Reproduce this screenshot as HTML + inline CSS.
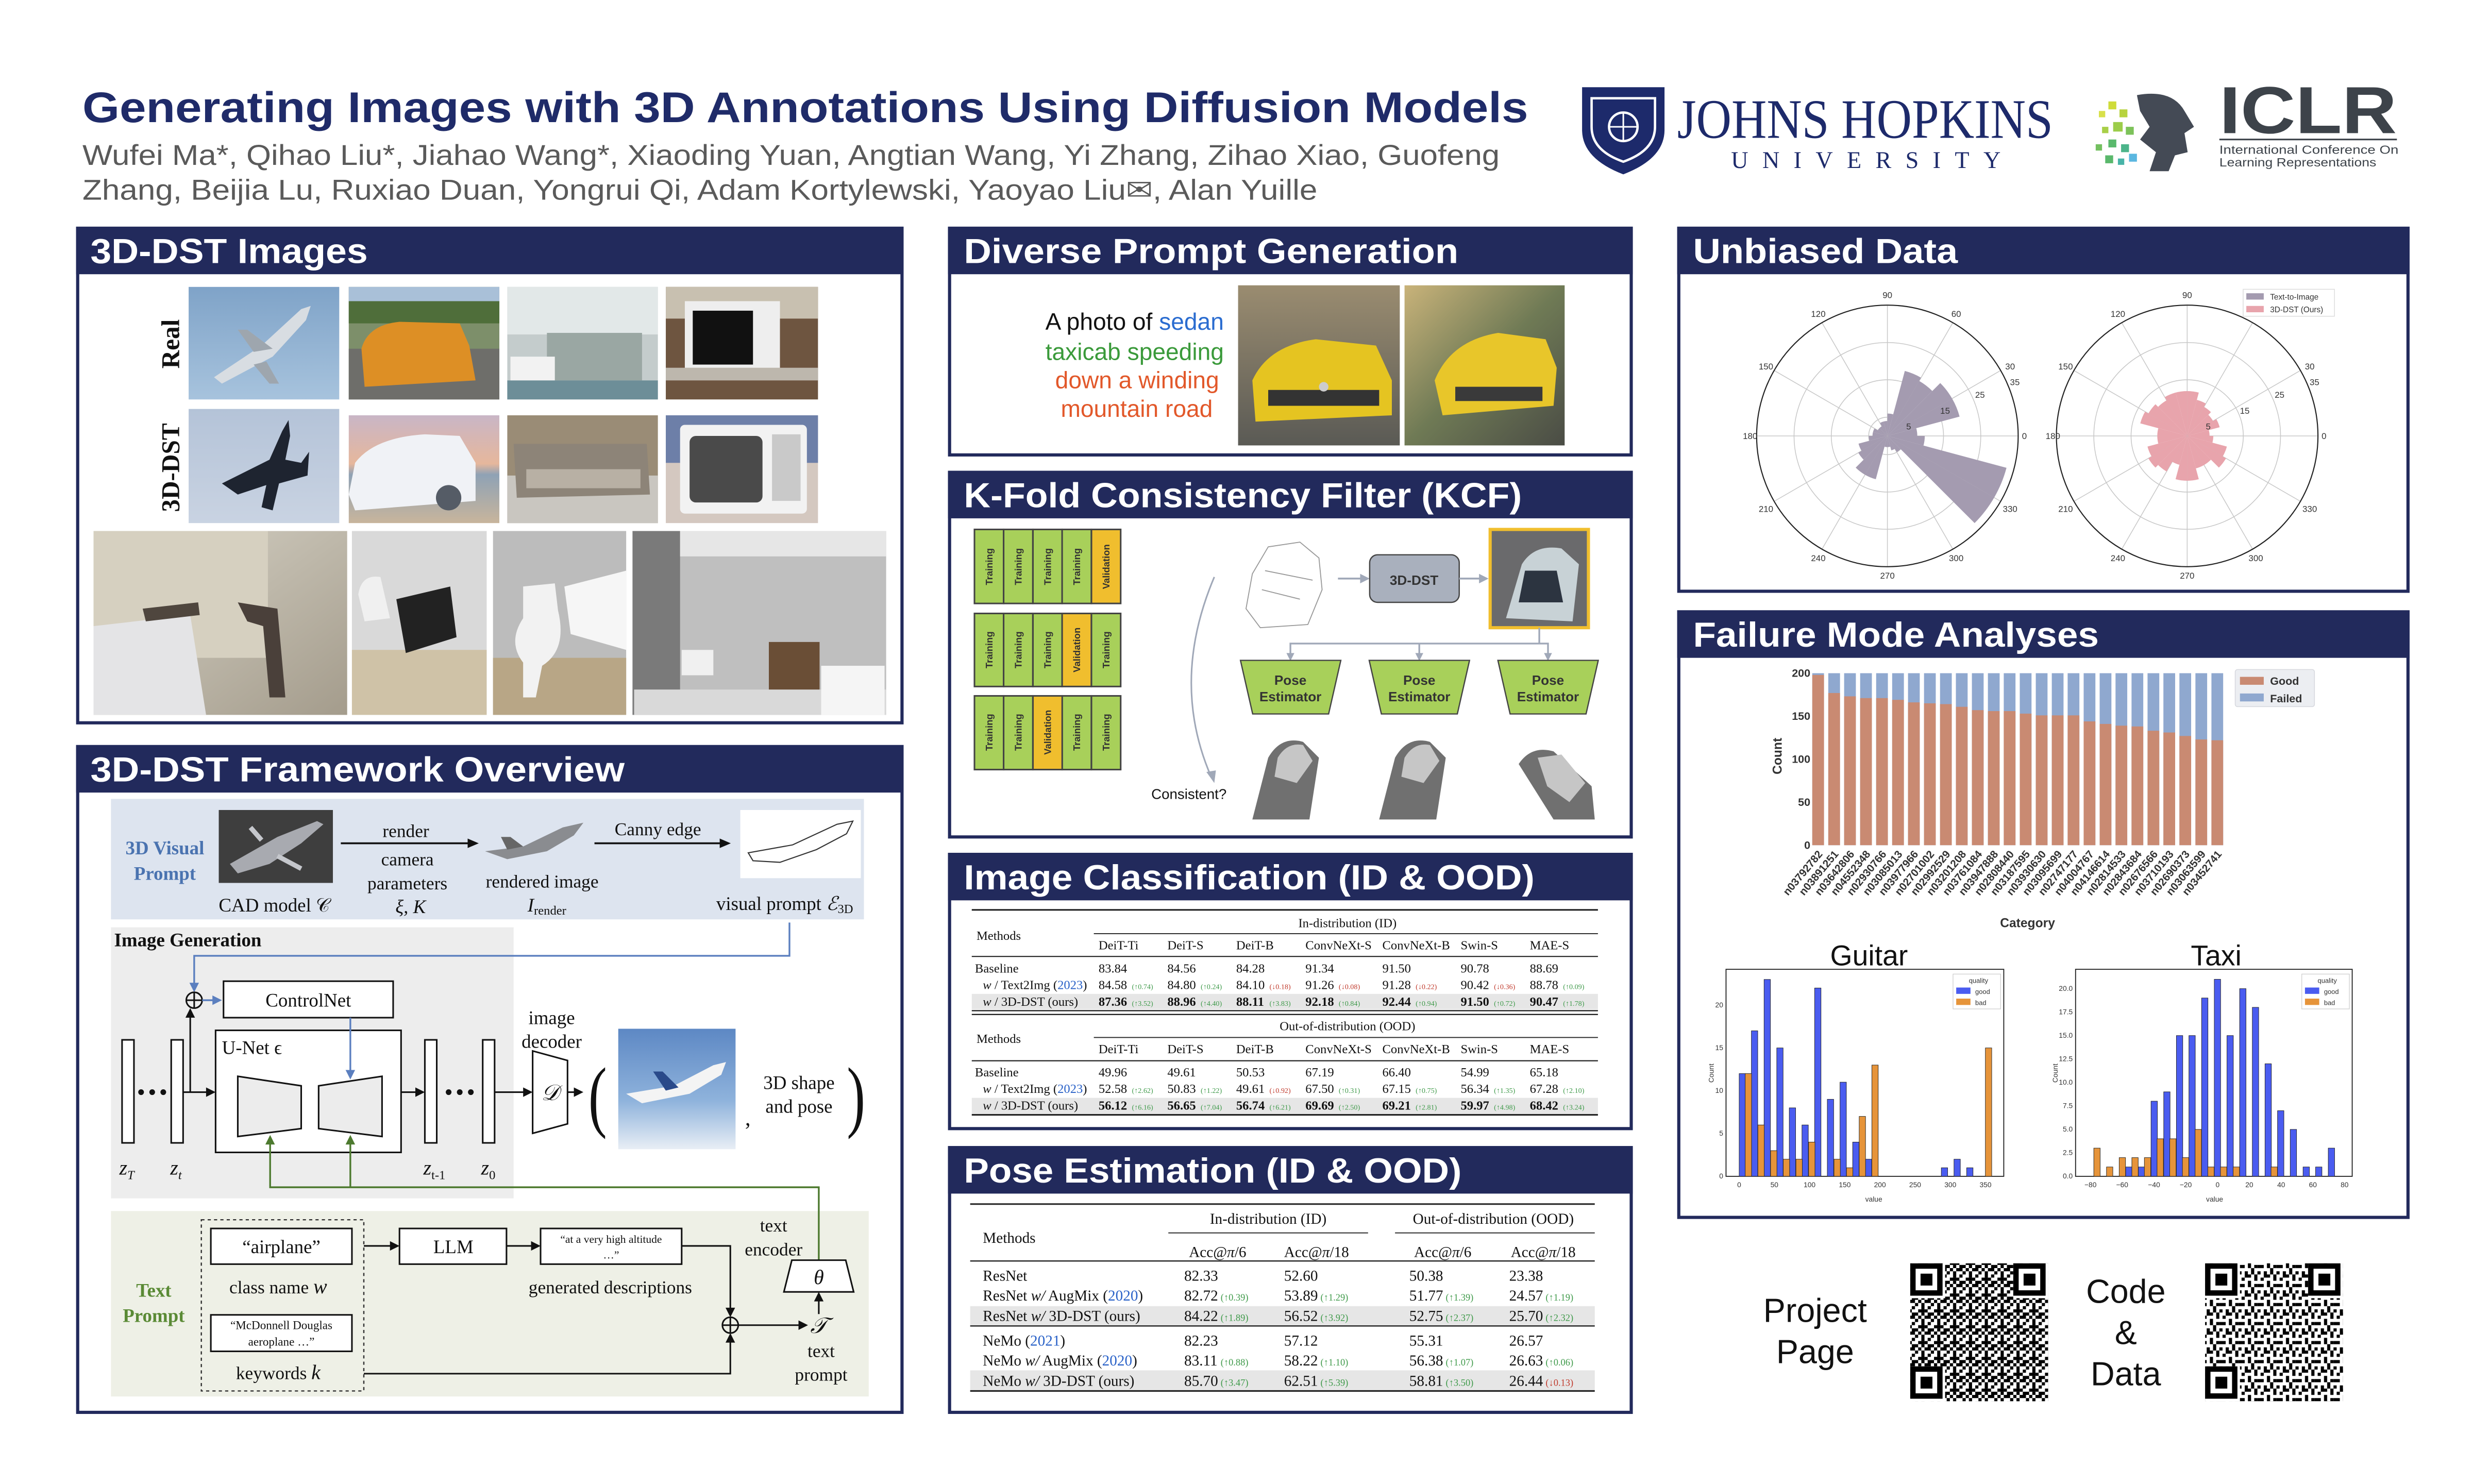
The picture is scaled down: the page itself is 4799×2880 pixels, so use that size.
<!DOCTYPE html>
<html><head><meta charset="utf-8"><style>
html,body{margin:0;padding:0;background:#fff;}
svg{display:block;}
.h{font-family:"Liberation Sans",sans-serif;font-weight:bold;fill:#fff;font-size:22px;}
.sf{font-family:"Liberation Serif",serif;}
.ss{font-family:"Liberation Sans",sans-serif;}
.t{font-family:"Liberation Serif",serif;font-size:8px;fill:#111;}
.d{font-family:"Liberation Serif",serif;font-size:4.6px;}
.g{fill:#3f9a4a;} .r{fill:#c0392b;} .bl{fill:#2a62c8;}
</style></head><body>
<svg width="4799" height="2880" viewBox="0 0 1560 936.2" preserveAspectRatio="none" xmlns="http://www.w3.org/2000/svg">
<defs>
<path id="w" d="M0,0 L1,0 A1,1 0 0,0 0.9659,-0.2588 Z"/>
<linearGradient id="sky" x1="0" y1="0" x2="0" y2="1"><stop offset="0" stop-color="#7fa3c8"/><stop offset="1" stop-color="#a7c3dd"/></linearGradient>
<linearGradient id="sky2" x1="0" y1="0" x2="0" y2="1"><stop offset="0" stop-color="#b4c3d8"/><stop offset="1" stop-color="#c9d3e2"/></linearGradient>
<linearGradient id="beach" x1="0" y1="0" x2="0" y2="1"><stop offset="0" stop-color="#c9b6c6"/><stop offset="0.45" stop-color="#e6b79c"/><stop offset="0.55" stop-color="#8fa2b5"/><stop offset="1" stop-color="#c8b59c"/></linearGradient>
<linearGradient id="room" x1="0" y1="0" x2="1" y2="1"><stop offset="0" stop-color="#d8d4c8"/><stop offset="1" stop-color="#a49c8c"/></linearGradient>
<linearGradient id="gray" x1="0" y1="0" x2="0" y2="1"><stop offset="0" stop-color="#d4d4d4"/><stop offset="1" stop-color="#9c9c9c"/></linearGradient>
<linearGradient id="road" x1="0" y1="0" x2="0" y2="1"><stop offset="0" stop-color="#9a8c70"/><stop offset="1" stop-color="#5a5a55"/></linearGradient>
<linearGradient id="road2" x1="0" y1="0" x2="1" y2="1"><stop offset="0" stop-color="#c9b37a"/><stop offset="0.5" stop-color="#6f7a55"/><stop offset="1" stop-color="#4a4c45"/></linearGradient>
<linearGradient id="pl" x1="0" y1="0" x2="0" y2="1"><stop offset="0" stop-color="#5d88c4"/><stop offset="0.6" stop-color="#8fb3dc"/><stop offset="1" stop-color="#e8eef5"/></linearGradient>
<pattern id="qr" width="10" height="10" patternUnits="userSpaceOnUse">
<rect width="10" height="10" fill="#fff"/>
<rect x="0" y="0" width="2" height="2"/><rect x="4" y="0" width="4" height="2"/><rect x="2" y="2" width="2" height="4"/><rect x="6" y="4" width="2" height="2"/><rect x="8" y="2" width="2" height="2"/><rect x="0" y="6" width="4" height="2"/><rect x="6" y="8" width="4" height="2"/><rect x="4" y="6" width="2" height="2"/><rect x="2" y="8" width="2" height="2"/>
</pattern>
<pattern id="qr2" width="12" height="12" patternUnits="userSpaceOnUse">
<rect width="12" height="12" fill="#fff"/>
<rect x="0" y="0" width="4" height="2"/><rect x="6" y="0" width="2" height="4"/><rect x="10" y="2" width="2" height="2"/><rect x="2" y="4" width="2" height="4"/><rect x="8" y="6" width="4" height="2"/><rect x="0" y="10" width="2" height="2"/><rect x="4" y="8" width="2" height="4"/><rect x="8" y="10" width="2" height="2"/><rect x="6" y="6" width="2" height="2"/>
</pattern>
</defs>
<rect width="1560" height="936.2" fill="#fff"/>

<!-- Title -->
<text x="52" y="77" class="ss" font-weight="bold" font-size="27" fill="#1f2b69" textLength="912" lengthAdjust="spacingAndGlyphs">Generating Images with 3D Annotations Using Diffusion Models</text>
<text x="52" y="104" class="ss" font-size="18" fill="#5a5a5a" textLength="894" lengthAdjust="spacingAndGlyphs">Wufei Ma*, Qihao Liu*, Jiahao Wang*, Xiaoding Yuan, Angtian Wang, Yi Zhang, Zihao Xiao, Guofeng</text>
<text x="52" y="126" class="ss" font-size="18" fill="#5a5a5a" textLength="779" lengthAdjust="spacingAndGlyphs">Zhang, Beijia Lu, Ruxiao Duan, Yongrui Qi, Adam Kortylewski, Yaoyao Liu✉, Alan Yuille</text>

<!-- JHU logo -->
<path d="M998,55 L1050,55 L1050,82 Q1050,100 1024,110 Q998,100 998,82 Z" fill="#1d2a6b"/>
<path d="M1004,62 L1044,62 L1044,80 Q1044,95 1024,102 Q1004,95 1004,80 Z" fill="none" stroke="#fff" stroke-width="1.5"/>
<circle cx="1024" cy="80" r="9" fill="none" stroke="#fff" stroke-width="1.5"/>
<line x1="1015" y1="80" x2="1033" y2="80" stroke="#fff" stroke-width="1"/>
<line x1="1024" y1="71" x2="1024" y2="89" stroke="#fff" stroke-width="1"/>
<text x="1058" y="87" class="sf" font-size="35" fill="#1d2a6b" textLength="237" lengthAdjust="spacingAndGlyphs">JOHNS HOPKINS</text>
<text x="1092" y="106" class="sf" font-size="15" fill="#1d2a6b" textLength="170" lengthAdjust="spacing">UNIVERSITY</text>
<!-- ICLR logo -->
<g>
<rect x="1324" y="70" width="4" height="4" fill="#d8e04a"/><rect x="1330" y="64" width="5" height="5" fill="#cfdc3a"/><rect x="1337" y="69" width="5" height="5" fill="#b7d33e"/>
<rect x="1326" y="80" width="4" height="4" fill="#a8cf48"/><rect x="1333" y="77" width="6" height="6" fill="#9ccd4a"/><rect x="1341" y="80" width="5" height="5" fill="#7dc25a"/>
<rect x="1322" y="91" width="4" height="4" fill="#74c060"/><rect x="1330" y="88" width="5" height="5" fill="#5ab96c"/><rect x="1338" y="91" width="5" height="5" fill="#4cb48a"/>
<rect x="1328" y="98" width="5" height="5" fill="#5ab86c"/><rect x="1336" y="100" width="4" height="4" fill="#48b4a8"/><rect x="1343" y="97" width="5" height="5" fill="#5bb7e0"/>
<path d="M1348,60 Q1370,56 1378,70 L1384,80 L1378,84 L1380,96 L1372,98 L1368,108 L1356,108 L1360,96 L1350,88 L1356,80 L1350,70 Z" fill="#444a55"/>
</g>
<text x="1400" y="84" class="ss" font-weight="bold" font-size="42" fill="#3d434a" textLength="112" lengthAdjust="spacingAndGlyphs">ICLR</text>
<line x1="1400" y1="88" x2="1512" y2="88" stroke="#3d434a" stroke-width="1"/>
<text x="1400" y="97" class="ss" font-size="7.5" fill="#3d434a" textLength="113" lengthAdjust="spacingAndGlyphs">International Conference On</text>
<text x="1400" y="105" class="ss" font-size="7.5" fill="#3d434a" textLength="99" lengthAdjust="spacingAndGlyphs">Learning Representations</text>

<!-- Panels -->
<g fill="#fff" stroke="#222a5c" stroke-width="2">
<rect x="49" y="144" width="520" height="312"/>
<rect x="49" y="471" width="520" height="420"/>
<rect x="599" y="144" width="430" height="143"/>
<rect x="599" y="298" width="430" height="230"/>
<rect x="599" y="539" width="430" height="173"/>
<rect x="599" y="724" width="430" height="167"/>
<rect x="1059" y="144" width="460" height="229"/>
<rect x="1059" y="386" width="460" height="382"/>
</g>
<g fill="#222a5c">
<rect x="48" y="143" width="522" height="30"/>
<rect x="48" y="470" width="522" height="30"/>
<rect x="598" y="143" width="432" height="30"/>
<rect x="598" y="297" width="432" height="30"/>
<rect x="598" y="538" width="432" height="30"/>
<rect x="598" y="723" width="432" height="30"/>
<rect x="1058" y="143" width="462" height="30"/>
<rect x="1058" y="385" width="462" height="30"/>
</g>
<text x="57" y="166" class="h" textLength="175" lengthAdjust="spacingAndGlyphs">3D-DST Images</text>
<text x="57" y="493" class="h" textLength="337" lengthAdjust="spacingAndGlyphs">3D-DST Framework Overview</text>
<text x="608" y="166" class="h" textLength="312" lengthAdjust="spacingAndGlyphs">Diverse Prompt Generation</text>
<text x="608" y="320" class="h" textLength="352" lengthAdjust="spacingAndGlyphs">K-Fold Consistency Filter (KCF)</text>
<text x="608" y="561" class="h" textLength="360" lengthAdjust="spacingAndGlyphs">Image Classification (ID &amp; OOD)</text>
<text x="608" y="746" class="h" textLength="314" lengthAdjust="spacingAndGlyphs">Pose Estimation (ID &amp; OOD)</text>
<text x="1068" y="166" class="h" textLength="167" lengthAdjust="spacingAndGlyphs">Unbiased Data</text>
<text x="1068" y="408" class="h" textLength="256" lengthAdjust="spacingAndGlyphs">Failure Mode Analyses</text>

<!-- 3D-DST Images -->
<text transform="translate(113,217) rotate(-90)" class="sf" font-weight="bold" font-size="16" text-anchor="middle" fill="#111">Real</text>
<text transform="translate(113,295) rotate(-90)" class="sf" font-weight="bold" font-size="16" text-anchor="middle" fill="#111">3D-DST</text>
<rect x="119" y="181" width="95" height="71" fill="url(#sky)"/>
<path d="M135,238 L165,218 L190,195 L196,193 L193,202 L172,225 L140,242 Z" fill="#d8dde2"/><path d="M160,222 L150,208 L156,208 L172,220 Z M168,228 L176,242 L170,242 L160,230Z" fill="#9ea6ae"/>
<rect x="220" y="181" width="95" height="71" fill="#7d8f6a"/>
<rect x="220" y="181" width="95" height="22" fill="#a9c0d8"/><rect x="220" y="190" width="95" height="14" fill="#4f6e3a"/>
<rect x="220" y="220" width="95" height="32" fill="#6e6e6a"/>
<path d="M228,220 Q232,205 252,203 L290,204 L296,218 L300,240 L230,244 Z" fill="#dd8f25"/>
<rect x="320" y="181" width="95" height="71" fill="#c4cccc"/><rect x="320" y="181" width="95" height="30" fill="#e2e8e8"/>
<rect x="345" y="210" width="60" height="30" fill="#9aa7a3"/><rect x="322" y="225" width="28" height="16" fill="#f2f2f2"/><rect x="320" y="240" width="95" height="12" fill="#6d8e98"/>
<rect x="420" y="181" width="96" height="71" fill="#6e5540"/><rect x="420" y="181" width="96" height="20" fill="#c8c0b0"/>
<rect x="432" y="190" width="60" height="45" fill="#eeeeee"/><rect x="437" y="196" width="38" height="34" fill="#111"/><rect x="420" y="232" width="96" height="8" fill="#bdb7ad"/>
<rect x="119" y="258" width="95" height="72" fill="url(#sky2)"/>
<path d="M140,305 L170,290 L178,272 L182,265 L183,275 L180,290 L190,292 L195,285 L194,300 L176,305 L172,322 L165,320 L168,306 L150,312 Z" fill="#1e2430"/>
<rect x="220" y="262" width="95" height="68" fill="url(#beach)"/>
<path d="M220,312 L224,292 Q236,276 268,274 L290,275 L300,292 L300,316 L224,322 Z" fill="#f0f2f6"/><circle cx="283" cy="314" r="8" fill="#555c66"/>
<rect x="320" y="262" width="95" height="68" fill="#9a8c76"/><rect x="320" y="300" width="95" height="30" fill="#c9c6c0"/>
<path d="M324,280 L408,280 L410,312 L326,314 Z" fill="#8d8478"/><rect x="332" y="296" width="72" height="12" fill="#b8b0a4"/>
<rect x="420" y="262" width="96" height="68" fill="#d4c8c0"/><rect x="420" y="262" width="96" height="30" fill="#6d7fa8"/>
<rect x="429" y="268" width="80" height="56" rx="3" fill="#f2f2f2"/><rect x="435" y="275" width="46" height="42" rx="4" fill="#4a4a4a"/><rect x="487" y="274" width="18" height="42" fill="#c9c9c9"/>
<rect x="59" y="335" width="160" height="116" fill="url(#room)"/><rect x="59" y="335" width="110" height="80" fill="#d6d0c0"/>
<path d="M59,395 L120,388 L130,451 L59,451 Z" fill="#e4e4e6"/><path d="M150,380 L175,384 L180,440 L170,440 L166,395 L156,392 Z" fill="#4a403a"/><path d="M90,384 L125,380 L126,388 L92,392Z" fill="#4f463e"/>
<rect x="222" y="335" width="85" height="116" fill="#d9d9d9"/><rect x="222" y="410" width="85" height="41" fill="#cfc2a7"/>
<path d="M250,378 L284,370 L288,402 L256,412 Z" fill="#222"/><path d="M226,375 Q228,362 240,364 L246,390 L230,392 Z" fill="#f0f0f0"/>
<rect x="311" y="335" width="84" height="116" fill="#bcbcbc"/><rect x="311" y="415" width="84" height="36" fill="#b8a686"/>
<path d="M330,370 L350,368 L352,385 Q358,410 342,420 L338,440 L330,440 L330,418 Q320,405 330,390 Z" fill="#f2f2f2"/><path d="M356,370 L395,360 L395,410 L360,400Z" fill="#f6f6f6"/>
<rect x="399" y="335" width="160" height="116" fill="#bfbfbf"/><rect x="399" y="335" width="30" height="116" fill="#7a7a7a"/><rect x="429" y="335" width="130" height="16" fill="#e6e6e6"/>
<rect x="400" y="435" width="159" height="16" fill="#d9d9d9"/><rect x="430" y="410" width="20" height="16" fill="#f0f0f0"/><rect x="485" y="405" width="32" height="30" fill="#6a4e36"/><rect x="518" y="420" width="40" height="31" fill="#f5f5f5"/>

<!-- Framework -->
<rect x="70" y="504" width="475" height="76" fill="#dde4ef"/>
<rect x="70" y="585" width="254" height="171" fill="#ededed"/>
<rect x="70" y="764" width="478" height="117" fill="#eef0e6"/>
<text x="104" y="539" class="sf" font-weight="bold" font-size="12" fill="#4a73b0" text-anchor="middle">3D Visual</text>
<text x="104" y="555" class="sf" font-weight="bold" font-size="12" fill="#4a73b0" text-anchor="middle">Prompt</text>
<rect x="138" y="511" width="72" height="46" fill="#3e3e3e"/>
<path d="M145,545 L175,528 L200,518 L204,520 L190,532 L170,545 L150,551 Z" fill="#a8aab0"/><path d="M165,530 L158,522 M175,540 L190,548" stroke="#c5c7cc" stroke-width="3"/>
<text x="173" y="575" class="sf" font-size="12" text-anchor="middle" fill="#111">CAD model 𝒞</text>
<text x="256" y="528" class="sf" font-size="11.5" text-anchor="middle" fill="#111">render</text>
<text x="257" y="546" class="sf" font-size="11.5" text-anchor="middle" fill="#111">camera</text>
<text x="257" y="561" class="sf" font-size="11.5" text-anchor="middle" fill="#111">parameters</text>
<text x="259" y="576" class="sf" font-size="12" font-style="italic" text-anchor="middle" fill="#111">ξ, K</text>
<line x1="215" y1="532" x2="298" y2="532" stroke="#111" stroke-width="1.2"/><path d="M302,532 L295,529 L295,535Z" fill="#111"/>
<path d="M306,537 L330,534 L355,522 L368,519 L362,527 L345,537 L320,542 Z" fill="#8a8c90"/><path d="M320,536 L316,528 L322,528 L330,534Z" fill="#666"/>
<text x="342" y="560" class="sf" font-size="11.5" text-anchor="middle" fill="#111">rendered image</text>
<text x="345" y="575" class="sf" font-size="12" font-style="italic" text-anchor="middle" fill="#111">I<tspan font-size="8" font-style="normal" dy="2">render</tspan></text>
<text x="415" y="527" class="sf" font-size="11.5" text-anchor="middle" fill="#111">Canny edge</text>
<line x1="375" y1="532" x2="457" y2="532" stroke="#111" stroke-width="1.2"/><path d="M461,532 L454,529 L454,535Z" fill="#111"/>
<rect x="467" y="511" width="76" height="43" fill="#fff"/>
<path d="M472,538 L500,533 L528,520 L538,518 L534,526 L515,536 L492,544 L475,543 Z" fill="none" stroke="#333" stroke-width="0.7"/>
<text x="495" y="574" class="sf" font-size="12" text-anchor="middle" fill="#111">visual prompt <tspan font-style="italic">ℰ</tspan><tspan font-size="8" dy="2">3D</tspan></text>
<text x="72" y="597" class="sf" font-weight="bold" font-size="12" fill="#111">Image Generation</text>
<path d="M498,582 L498,603 L122.5,603 L122.5,622" fill="none" stroke="#5b7fbf" stroke-width="1.1"/><path d="M122.5,626 L119.5,620 L125.5,620Z" fill="#5b7fbf"/>
<circle cx="122.5" cy="631" r="5" fill="none" stroke="#111" stroke-width="1"/><line x1="117.5" y1="631" x2="127.5" y2="631" stroke="#111"/><line x1="122.5" y1="626" x2="122.5" y2="636" stroke="#111"/>
<line x1="127.5" y1="631" x2="136" y2="631" stroke="#5b7fbf" stroke-width="1.1"/><path d="M140,631 L134,628 L134,634Z" fill="#5b7fbf"/>
<rect x="141" y="619" width="107" height="23" fill="#fff" stroke="#111" stroke-width="1"/>
<text x="194.5" y="635" class="sf" font-size="12" text-anchor="middle" fill="#111">ControlNet</text>
<rect x="136" y="650" width="117" height="77" fill="#fff" stroke="#111" stroke-width="1"/>
<text x="140" y="665" class="sf" font-size="12" fill="#111">U-Net ϵ</text>
<path d="M150,679 L190,685 L190,712 L150,717 Z" fill="#ececec" stroke="#111" stroke-width="1"/>
<path d="M201,685 L241,679 L241,717 L201,712 Z" fill="#ececec" stroke="#111" stroke-width="1"/>
<line x1="221" y1="642" x2="221" y2="676" stroke="#5b7fbf" stroke-width="1.1"/><path d="M221,681 L218,675 L224,675Z" fill="#5b7fbf"/>
<g fill="#fff" stroke="#111" stroke-width="1"><rect x="77" y="656" width="7.5" height="65"/><rect x="108" y="656" width="7.5" height="65"/><rect x="268" y="656" width="7.5" height="65"/><rect x="304.5" y="656" width="7.5" height="65"/></g>
<g fill="#111"><circle cx="89" cy="689" r="1.8"/><circle cx="96" cy="689" r="1.8"/><circle cx="103" cy="689" r="1.8"/><circle cx="283" cy="689" r="1.8"/><circle cx="290" cy="689" r="1.8"/><circle cx="297" cy="689" r="1.8"/></g>
<line x1="115.5" y1="689" x2="132" y2="689" stroke="#111"/><path d="M136,689 L130,686 L130,692Z" fill="#111"/>
<line x1="120" y1="689" x2="120" y2="640"/><line x1="120" y1="689" x2="120" y2="640" stroke="#111"/><path d="M120,636 L117,642 L123,642Z" fill="#111"/>
<line x1="253" y1="689" x2="264" y2="689" stroke="#111"/><path d="M268,689 L262,686 L262,692Z" fill="#111"/>
<line x1="312" y1="689" x2="332" y2="689" stroke="#111"/><path d="M336,689 L330,686 L330,692Z" fill="#111"/>
<path d="M336,663 L358,669 L358,709 L336,715 Z" fill="#fff" stroke="#111" stroke-width="1"/>
<text x="347" y="694" class="sf" font-size="14" font-style="italic" text-anchor="middle" fill="#111">𝒟</text>
<line x1="358" y1="689" x2="364" y2="689" stroke="#111"/><path d="M368,689 L362,686 L362,692Z" fill="#111"/>
<text x="348" y="646" class="sf" font-size="12" text-anchor="middle" fill="#111">image</text>
<text x="348" y="661" class="sf" font-size="12" text-anchor="middle" fill="#111">decoder</text>
<text x="377" y="708" class="sf" font-size="50" text-anchor="middle" fill="#111" transform="translate(377,708) scale(0.7,1) translate(-377,-708)">(</text>
<text x="540" y="708" class="sf" font-size="50" text-anchor="middle" fill="#111" transform="translate(540,708) scale(0.7,1) translate(-540,-708)">)</text>
<rect x="390" y="649" width="74" height="76" fill="url(#pl)"/>
<path d="M395,690 L425,685 L450,672 L458,670 L455,678 L435,690 L405,696 Z" fill="#f4f4f4"/><path d="M420,688 L412,676 L418,676 L428,686Z" fill="#2a4a8a"/>
<text x="470" y="710" class="sf" font-size="14" fill="#111">,</text>
<text x="504" y="687" class="sf" font-size="12" text-anchor="middle" fill="#111">3D shape</text>
<text x="504" y="702" class="sf" font-size="12" text-anchor="middle" fill="#111">and pose</text>
<g class="sf" font-size="13" font-style="italic" fill="#111" text-anchor="middle">
<text x="80" y="741">z<tspan font-size="8" dy="3">T</tspan></text><text x="111" y="741">z<tspan font-size="8" dy="3">t</tspan></text>
<text x="274" y="741">z<tspan font-size="8" dy="3" font-style="normal">t-1</tspan></text><text x="308" y="741">z<tspan font-size="8" dy="3" font-style="normal">0</tspan></text></g>
<path d="M516.5,795 L516.5,749 L170.4,749 L170.4,721 M221,749 L221,721" fill="none" stroke="#4d7a2f" stroke-width="1.1"/>
<path d="M170.4,716 L167.4,722 L173.4,722Z M221,716 L218,722 L224,722Z" fill="#4d7a2f"/>
<text x="97" y="818" class="sf" font-weight="bold" font-size="12" fill="#5a8a35" text-anchor="middle">Text</text>
<text x="97" y="834" class="sf" font-weight="bold" font-size="12" fill="#5a8a35" text-anchor="middle">Prompt</text>
<rect x="127" y="769.5" width="102.5" height="108" fill="none" stroke="#333" stroke-width="0.8" stroke-dasharray="2,2"/>
<rect x="133" y="775" width="89" height="22.5" fill="#fff" stroke="#111" stroke-width="1"/>
<text x="177.5" y="790.5" class="sf" font-size="12" text-anchor="middle" fill="#111">“airplane”</text>
<text x="175.5" y="816" class="sf" font-size="11.5" text-anchor="middle" fill="#111">class name  <tspan font-style="italic" font-size="13">w</tspan></text>
<rect x="133" y="829.5" width="89" height="23" fill="#fff" stroke="#111" stroke-width="1"/>
<text x="177.5" y="838.5" class="sf" font-size="7.5" text-anchor="middle" fill="#111">“McDonnell Douglas</text>
<text x="177.5" y="849" class="sf" font-size="7.5" text-anchor="middle" fill="#111">aeroplane  …”</text>
<text x="175.5" y="870" class="sf" font-size="11.5" text-anchor="middle" fill="#111">keywords  <tspan font-style="italic" font-size="13">k</tspan></text>
<line x1="229.5" y1="786" x2="248" y2="786" stroke="#111"/><path d="M252,786 L246,783 L246,789Z" fill="#111"/>
<rect x="252" y="775" width="67.5" height="22.5" fill="#fff" stroke="#111" stroke-width="1"/>
<text x="286" y="790.5" class="sf" font-size="12" text-anchor="middle" fill="#111">LLM</text>
<line x1="319.5" y1="786" x2="337" y2="786" stroke="#111"/><path d="M341,786 L335,783 L335,789Z" fill="#111"/>
<rect x="341" y="775" width="89" height="22.5" fill="#fff" stroke="#111" stroke-width="1"/>
<text x="385.5" y="784" class="sf" font-size="7" text-anchor="middle" fill="#111">“at a very high altitude</text>
<text x="385.5" y="794" class="sf" font-size="7" text-anchor="middle" fill="#111">…”</text>
<text x="385" y="816" class="sf" font-size="11.5" text-anchor="middle" fill="#111">generated descriptions</text>
<path d="M430,786 L460.7,786 L460.7,827" fill="none" stroke="#111"/><path d="M460.7,831 L457.7,825 L463.7,825Z" fill="#111"/>
<path d="M229.5,866.6 L460.7,866.6 L460.7,845" fill="none" stroke="#111"/><path d="M460.7,841 L457.7,847 L463.7,847Z" fill="#111"/>
<circle cx="460.7" cy="836" r="5" fill="none" stroke="#111"/><line x1="455.7" y1="836" x2="465.7" y2="836" stroke="#111"/><line x1="460.7" y1="831" x2="460.7" y2="841" stroke="#111"/>
<line x1="465.7" y1="836" x2="505" y2="836" stroke="#111"/><path d="M509.7,836 L503.7,833 L503.7,839Z" fill="#111"/>
<text x="516.5" y="841" class="sf" font-size="14" font-style="italic" text-anchor="middle" fill="#111">𝒯</text>
<line x1="516.5" y1="829" x2="516.5" y2="819" stroke="#111"/><path d="M516.5,815 L513.5,821 L519.5,821Z" fill="#111"/>
<path d="M499.5,795 L533.5,795 L538.5,815 L494.5,815 Z" fill="#fff" stroke="#111" stroke-width="1"/>
<text x="516.5" y="810" class="sf" font-size="13" font-style="italic" text-anchor="middle" fill="#111">θ</text>
<text x="488" y="777" class="sf" font-size="11.5" text-anchor="middle" fill="#111">text</text>
<text x="488" y="792" class="sf" font-size="11.5" text-anchor="middle" fill="#111">encoder</text>
<text x="518" y="856" class="sf" font-size="11.5" text-anchor="middle" fill="#111">text</text>
<text x="518" y="871" class="sf" font-size="11.5" text-anchor="middle" fill="#111">prompt</text>

<!-- Diverse prompt -->
<g class="ss" font-size="15" text-anchor="end">
<text x="772" y="208" fill="#111">A photo of <tspan fill="#2a6cd0">sedan</tspan></text>
<text x="772" y="227" fill="#3a9a3a">taxicab speeding</text>
<text x="769" y="245" fill="#e2582a">down a winding</text>
<text x="765" y="263" fill="#e2582a">mountain road</text>
</g>
<rect x="781" y="180" width="102" height="101" fill="url(#road)"/>
<path d="M790,240 Q800,218 830,214 L868,218 L878,240 L878,262 L792,266 Z" fill="#e5c421"/><rect x="800" y="246" width="70" height="10" fill="#333"/><circle cx="835" cy="244" r="3" fill="#ccc"/>
<rect x="886" y="180" width="101" height="101" fill="url(#road2)"/>
<path d="M905,240 Q915,215 945,210 L975,214 L982,232 L980,256 L910,262 Z" fill="#e8c62a"/><rect x="918" y="244" width="55" height="9" fill="#3a3a3a"/>

<!-- KCF -->
<g stroke="#444" stroke-width="1">
<g fill="#a8d05a"><rect x="614.7" y="334" width="18.44" height="46.7"/><rect x="633.1" y="334" width="18.44" height="46.7"/><rect x="651.6" y="334" width="18.44" height="46.7"/><rect x="670" y="334" width="18.44" height="46.7"/></g>
<rect x="688.5" y="334" width="18.44" height="46.7" fill="#f0be2e"/>
<g fill="#a8d05a"><rect x="614.7" y="387" width="18.44" height="46.1"/><rect x="633.1" y="387" width="18.44" height="46.1"/><rect x="651.6" y="387" width="18.44" height="46.1"/><rect x="688.5" y="387" width="18.44" height="46.1"/></g>
<rect x="670" y="387" width="18.44" height="46.1" fill="#f0be2e"/>
<g fill="#a8d05a"><rect x="614.7" y="439" width="18.44" height="46.5"/><rect x="633.1" y="439" width="18.44" height="46.5"/><rect x="670" y="439" width="18.44" height="46.5"/><rect x="688.5" y="439" width="18.44" height="46.5"/></g>
<rect x="651.6" y="439" width="18.44" height="46.5" fill="#f0be2e"/>
</g>
<g class="ss" font-weight="bold" font-size="6" fill="#333" text-anchor="middle">
<text transform="translate(626,357.5) rotate(-90)">Training</text><text transform="translate(644.4,357.5) rotate(-90)">Training</text><text transform="translate(662.9,357.5) rotate(-90)">Training</text><text transform="translate(681.3,357.5) rotate(-90)">Training</text><text transform="translate(699.8,357.5) rotate(-90)">Validation</text>
<text transform="translate(626,410) rotate(-90)">Training</text><text transform="translate(644.4,410) rotate(-90)">Training</text><text transform="translate(662.9,410) rotate(-90)">Training</text><text transform="translate(681.3,410) rotate(-90)">Validation</text><text transform="translate(699.8,410) rotate(-90)">Training</text>
<text transform="translate(626,462) rotate(-90)">Training</text><text transform="translate(644.4,462) rotate(-90)">Training</text><text transform="translate(662.9,462) rotate(-90)">Validation</text><text transform="translate(681.3,462) rotate(-90)">Training</text><text transform="translate(699.8,462) rotate(-90)">Training</text>
</g>
<path d="M800,345 L820,342 L832,352 L834,372 L825,394 L795,396 L786,384 L790,362 Z M798,360 L828,366 M796,372 L820,378" fill="none" stroke="#999" stroke-width="0.6"/>
<line x1="844" y1="365" x2="860" y2="365" stroke="#a0a8b8" stroke-width="1.2"/><path d="M864,365 L858,362 L858,368Z" fill="#a0a8b8"/>
<rect x="864" y="350" width="56.5" height="30" rx="5" fill="#a9b0bd" stroke="#444" stroke-width="0.8"/>
<text x="892" y="369" class="ss" font-weight="bold" font-size="8.5" text-anchor="middle" fill="#333">3D-DST</text>
<line x1="920.5" y1="365" x2="935" y2="365" stroke="#a0a8b8" stroke-width="1.2"/><path d="M939,365 L933,362 L933,368Z" fill="#a0a8b8"/>
<rect x="940" y="334" width="62" height="62" fill="#6a6a6c" stroke="#f0be2e" stroke-width="2"/>
<path d="M950,390 L960,356 Q968,343 985,346 L996,356 L992,392 Z" fill="#c8d2d6"/><path d="M962,360 L982,360 L986,380 L958,380Z" fill="#2c3440"/>
<path d="M971,396 L971,406 M814,415 L814,406 L976.5,406 L976.5,415 M895.3,406 L895.3,415" fill="none" stroke="#a0a8b8" stroke-width="1.1"/>
<g fill="#a0a8b8"><path d="M814,417 L811.5,412 L816.5,412Z"/><path d="M895.3,417 L892.8,412 L897.8,412Z"/><path d="M976.5,417 L974,412 L979,412Z"/></g>
<g fill="#a8d05a" stroke="#444" stroke-width="0.8">
<path d="M782.5,416.6 L845.8,416.6 L838.1,450.4 L790.2,450.4 Z"/>
<path d="M863.7,416.6 L927,416.6 L919.3,450.4 L871.4,450.4 Z"/>
<path d="M944.9,416.6 L1008.2,416.6 L1000.5,450.4 L952.6,450.4 Z"/>
</g>
<g class="ss" font-weight="bold" font-size="8.5" text-anchor="middle" fill="#333">
<text x="814" y="432">Pose</text><text x="814" y="442.5">Estimator</text>
<text x="895.3" y="432">Pose</text><text x="895.3" y="442.5">Estimator</text>
<text x="976.5" y="432">Pose</text><text x="976.5" y="442.5">Estimator</text>
</g>
<g fill="#707070"><path d="M790,517 L800,478 Q808,464 822,468 L832,478 L826,517 Z"/><path d="M870,517 L880,478 Q888,464 902,468 L912,478 L906,517 Z"/><path d="M958,482 Q966,470 980,474 L1004,496 L1006,517 L980,517 Z"/></g>
<g fill="#c6c6c6"><path d="M806,478 Q812,468 822,470 L828,480 L818,494 L804,490Z"/><path d="M886,478 Q892,468 902,470 L908,480 L898,494 L884,490Z"/><path d="M970,478 L985,476 L1000,494 L990,506 L976,496Z"/></g>
<path d="M766,364 Q738,430 764,490" fill="none" stroke="#a0a8b8" stroke-width="1"/><path d="M766,494 L761,487 L767,486Z" fill="#a0a8b8"/>
<text x="750" y="504" class="ss" font-size="9" text-anchor="middle" fill="#111">Consistent?</text>

<!-- Image Classification table -->
<g stroke="#222">
<line x1="613" y1="574" x2="1008" y2="574" stroke-width="1"/>
<line x1="690" y1="589" x2="1008" y2="589" stroke-width="0.6"/>
<line x1="613" y1="603.4" x2="1008" y2="603.4" stroke-width="0.7"/>
<line x1="613" y1="654.5" x2="613" y2="654.5"/>
<line x1="690" y1="654.5" x2="1008" y2="654.5" stroke-width="0.6"/>
<line x1="613" y1="669.2" x2="1008" y2="669.2" stroke-width="0.7"/>
</g>
<rect x="613" y="627" width="395" height="9.7" fill="#e6e6e6"/>
<rect x="613" y="692.6" width="395" height="10.2" fill="#e6e6e6"/>
<line x1="613" y1="637.6" x2="1008" y2="637.6" stroke="#222" stroke-width="0.8"/>
<line x1="613" y1="640" x2="1008" y2="640" stroke="#222" stroke-width="0.8"/>
<line x1="613" y1="703.3" x2="1008" y2="703.3" stroke="#222" stroke-width="1"/>
<text x="850" y="585" class="t" text-anchor="middle">In-distribution (ID)</text>
<text x="850" y="650" class="t" text-anchor="middle">Out-of-distribution (OOD)</text>
<text x="616" y="593" class="t">Methods</text><text x="616" y="658" class="t">Methods</text>
<g class="t">
<text x="693" y="599">DeiT-Ti</text><text x="736.4" y="599">DeiT-S</text><text x="779.8" y="599">DeiT-B</text><text x="823.5" y="599">ConvNeXt-S</text><text x="872" y="599">ConvNeXt-B</text><text x="921.4" y="599">Swin-S</text><text x="965" y="599">MAE-S</text>
<text x="693" y="664.5">DeiT-Ti</text><text x="736.4" y="664.5">DeiT-S</text><text x="779.8" y="664.5">DeiT-B</text><text x="823.5" y="664.5">ConvNeXt-S</text><text x="872" y="664.5">ConvNeXt-B</text><text x="921.4" y="664.5">Swin-S</text><text x="965" y="664.5">MAE-S</text>
<text x="615" y="613.5">Baseline</text><text x="693" y="613.5">83.84</text><text x="736.4" y="613.5">84.56</text><text x="779.8" y="613.5">84.28</text><text x="823.5" y="613.5">91.34</text><text x="872" y="613.5">91.50</text><text x="921.4" y="613.5">90.78</text><text x="965" y="613.5">88.69</text>
<text x="620" y="624"><tspan font-style="italic">w</tspan> / Text2Img (<tspan class="bl">2023</tspan>)</text><text x="693" y="624">84.58</text><text x="736.4" y="624">84.80</text><text x="779.8" y="624">84.10</text><text x="823.5" y="624">91.26</text><text x="872" y="624">91.28</text><text x="921.4" y="624">90.42</text><text x="965" y="624">88.78</text>
<text x="620" y="634.5"><tspan font-style="italic">w</tspan> / 3D-DST (ours)</text>
<g font-weight="bold"><text x="693" y="634.5">87.36</text><text x="736.4" y="634.5">88.96</text><text x="779.8" y="634.5">88.11</text><text x="823.5" y="634.5">92.18</text><text x="872" y="634.5">92.44</text><text x="921.4" y="634.5">91.50</text><text x="965" y="634.5">90.47</text></g>
<text x="615" y="679">Baseline</text><text x="693" y="679">49.96</text><text x="736.4" y="679">49.61</text><text x="779.8" y="679">50.53</text><text x="823.5" y="679">67.19</text><text x="872" y="679">66.40</text><text x="921.4" y="679">54.99</text><text x="965" y="679">65.18</text>
<text x="620" y="689.5"><tspan font-style="italic">w</tspan> / Text2Img (<tspan class="bl">2023</tspan>)</text><text x="693" y="689.5">52.58</text><text x="736.4" y="689.5">50.83</text><text x="779.8" y="689.5">49.61</text><text x="823.5" y="689.5">67.50</text><text x="872" y="689.5">67.15</text><text x="921.4" y="689.5">56.34</text><text x="965" y="689.5">67.28</text>
<text x="620" y="700"><tspan font-style="italic">w</tspan> / 3D-DST (ours)</text>
<g font-weight="bold"><text x="693" y="700">56.12</text><text x="736.4" y="700">56.65</text><text x="779.8" y="700">56.74</text><text x="823.5" y="700">69.69</text><text x="872" y="700">69.21</text><text x="921.4" y="700">59.97</text><text x="965" y="700">68.42</text></g>
</g>
<g class="d">
<text x="714" y="624" class="g">(↑0.74)</text><text x="757.4" y="624" class="g">(↑0.24)</text><text x="800.8" y="624" class="r">(↓0.18)</text><text x="844.5" y="624" class="r">(↓0.08)</text><text x="893" y="624" class="r">(↓0.22)</text><text x="942.4" y="624" class="r">(↓0.36)</text><text x="986" y="624" class="g">(↑0.09)</text>
<text x="714" y="634.5" class="g">(↑3.52)</text><text x="757.4" y="634.5" class="g">(↑4.40)</text><text x="800.8" y="634.5" class="g">(↑3.83)</text><text x="844.5" y="634.5" class="g">(↑0.84)</text><text x="893" y="634.5" class="g">(↑0.94)</text><text x="942.4" y="634.5" class="g">(↑0.72)</text><text x="986" y="634.5" class="g">(↑1.78)</text>
<text x="714" y="689.5" class="g">(↑2.62)</text><text x="757.4" y="689.5" class="g">(↑1.22)</text><text x="800.8" y="689.5" class="r">(↓0.92)</text><text x="844.5" y="689.5" class="g">(↑0.31)</text><text x="893" y="689.5" class="g">(↑0.75)</text><text x="942.4" y="689.5" class="g">(↑1.35)</text><text x="986" y="689.5" class="g">(↑2.10)</text>
<text x="714" y="700" class="g">(↑6.16)</text><text x="757.4" y="700" class="g">(↑7.04)</text><text x="800.8" y="700" class="g">(↑6.21)</text><text x="844.5" y="700" class="g">(↑2.50)</text><text x="893" y="700" class="g">(↑2.81)</text><text x="942.4" y="700" class="g">(↑4.98)</text><text x="986" y="700" class="g">(↑3.24)</text>
</g>

<!-- Pose table -->
<rect x="612" y="824" width="394" height="12.4" fill="#e6e6e6"/>
<rect x="612" y="864.5" width="394" height="12.5" fill="#e6e6e6"/>
<g stroke="#222">
<line x1="612" y1="759.6" x2="1006" y2="759.6" stroke-width="1"/>
<line x1="737" y1="777.8" x2="863" y2="777.8" stroke-width="0.6"/>
<line x1="880" y1="777.8" x2="1006" y2="777.8" stroke-width="0.6"/>
<line x1="612" y1="795.5" x2="1006" y2="795.5" stroke-width="0.8"/>
<line x1="612" y1="836.5" x2="1006" y2="836.5" stroke-width="0.8"/>
<line x1="612" y1="877.5" x2="1006" y2="877.5" stroke-width="1"/>
</g>
<g class="sf" font-size="9.5" fill="#111">
<text x="800" y="772" text-anchor="middle">In-distribution (ID)</text><text x="942" y="772" text-anchor="middle">Out-of-distribution (OOD)</text>
<text x="620" y="784">Methods</text>
<text x="750" y="793"><tspan font-style="normal">Acc@</tspan><tspan font-style="italic">π</tspan>/6</text><text x="810" y="793">Acc@<tspan font-style="italic">π</tspan>/18</text><text x="892" y="793">Acc@<tspan font-style="italic">π</tspan>/6</text><text x="953" y="793">Acc@<tspan font-style="italic">π</tspan>/18</text>
<text x="620" y="808">ResNet</text><text x="747" y="808">82.33</text><text x="810" y="808">52.60</text><text x="889" y="808">50.38</text><text x="952" y="808">23.38</text>
<text x="620" y="820.5">ResNet <tspan font-style="italic">w/</tspan> AugMix (<tspan class="bl">2020</tspan>)</text><text x="747" y="820.5">82.72</text><text x="810" y="820.5">53.89</text><text x="889" y="820.5">51.77</text><text x="952" y="820.5">24.57</text>
<text x="620" y="833.3">ResNet <tspan font-style="italic">w/</tspan> 3D-DST (ours)</text><text x="747" y="833.3">84.22</text><text x="810" y="833.3">56.52</text><text x="889" y="833.3">52.75</text><text x="952" y="833.3">25.70</text>
<text x="620" y="849">NeMo (<tspan class="bl">2021</tspan>)</text><text x="747" y="849">82.23</text><text x="810" y="849">57.12</text><text x="889" y="849">55.31</text><text x="952" y="849">26.57</text>
<text x="620" y="861.5">NeMo <tspan font-style="italic">w/</tspan> AugMix (<tspan class="bl">2020</tspan>)</text><text x="747" y="861.5">83.11</text><text x="810" y="861.5">58.22</text><text x="889" y="861.5">56.38</text><text x="952" y="861.5">26.63</text>
<text x="620" y="874.2">NeMo <tspan font-style="italic">w/</tspan> 3D-DST (ours)</text><text x="747" y="874.2">85.70</text><text x="810" y="874.2">62.51</text><text x="889" y="874.2">58.81</text><text x="952" y="874.2">26.44</text>
</g>
<g class="sf" font-size="6">
<text x="770" y="820.5" class="g">(↑0.39)</text><text x="833" y="820.5" class="g">(↑1.29)</text><text x="912" y="820.5" class="g">(↑1.39)</text><text x="975" y="820.5" class="g">(↑1.19)</text>
<text x="770" y="833.3" class="g">(↑1.89)</text><text x="833" y="833.3" class="g">(↑3.92)</text><text x="912" y="833.3" class="g">(↑2.37)</text><text x="975" y="833.3" class="g">(↑2.32)</text>
<text x="770" y="861.5" class="g">(↑0.88)</text><text x="833" y="861.5" class="g">(↑1.10)</text><text x="912" y="861.5" class="g">(↑1.07)</text><text x="975" y="861.5" class="g">(↑0.06)</text>
<text x="770" y="874.2" class="g">(↑3.47)</text><text x="833" y="874.2" class="g">(↑5.39)</text><text x="912" y="874.2" class="g">(↑3.50)</text><text x="975" y="874.2" class="r">(↓0.13)</text>
</g>

<!-- Unbiased polar charts -->
<g id="polgrid">
<g transform="translate(1190.6,275)" fill="none" stroke="#c8c8c8" stroke-width="0.5">
<circle r="11.8"/><circle r="35.4"/><circle r="58.9"/>
<line x1="-82.5" y1="0" x2="82.5" y2="0"/><line x1="0" y1="-82.5" x2="0" y2="82.5"/>
<line x1="-71.4" y1="-41.25" x2="71.4" y2="41.25"/><line x1="-71.4" y1="41.25" x2="71.4" y2="-41.25"/>
<line x1="-41.25" y1="-71.4" x2="41.25" y2="71.4"/><line x1="-41.25" y1="71.4" x2="41.25" y2="-71.4"/>
</g>
</g>
<g transform="translate(1190.6,275) scale(2.357)" fill="#a49bb0">
<use href="#w" transform="rotate(0) scale(8)"/><use href="#w" transform="rotate(-15) scale(20)"/><use href="#w" transform="rotate(-30) scale(20)"/><use href="#w" transform="rotate(-45) scale(17)"/><use href="#w" transform="rotate(-60) scale(18)"/><use href="#w" transform="rotate(-75) scale(6)"/>
<use href="#w" transform="rotate(-90) scale(4)"/><use href="#w" transform="rotate(-105) scale(4)"/><use href="#w" transform="rotate(-120) scale(3)"/><use href="#w" transform="rotate(-135) scale(3)"/><use href="#w" transform="rotate(-150) scale(4)"/><use href="#w" transform="rotate(-165) scale(4)"/>
<use href="#w" transform="rotate(-180) scale(5)"/><use href="#w" transform="rotate(-195) scale(8)"/><use href="#w" transform="rotate(-210) scale(9)"/><use href="#w" transform="rotate(-225) scale(12)"/><use href="#w" transform="rotate(-240) scale(12)"/><use href="#w" transform="rotate(-255) scale(3)"/>
<use href="#w" transform="rotate(-270) scale(3)"/><use href="#w" transform="rotate(-285) scale(4)"/><use href="#w" transform="rotate(-300) scale(5)"/><use href="#w" transform="rotate(-315) scale(33)"/><use href="#w" transform="rotate(-330) scale(33)"/><use href="#w" transform="rotate(-345) scale(10)"/>
</g>
<circle cx="1190.6" cy="275" r="82.5" fill="none" stroke="#222" stroke-width="0.7"/>
<use href="#polgrid" transform="translate(189.1,0)"/>
<g transform="translate(1379.7,275) scale(2.357)" fill="#e8a4ac">
<use href="#w" transform="rotate(0) scale(6)"/><use href="#w" transform="rotate(-15) scale(9)"/><use href="#w" transform="rotate(-30) scale(8)"/><use href="#w" transform="rotate(-45) scale(9)"/><use href="#w" transform="rotate(-60) scale(10)"/><use href="#w" transform="rotate(-75) scale(12)"/>
<use href="#w" transform="rotate(-90) scale(12)"/><use href="#w" transform="rotate(-105) scale(12)"/><use href="#w" transform="rotate(-120) scale(11)"/><use href="#w" transform="rotate(-135) scale(12)"/><use href="#w" transform="rotate(-150) scale(13)"/><use href="#w" transform="rotate(-165) scale(8)"/>
<use href="#w" transform="rotate(-180) scale(8)"/><use href="#w" transform="rotate(-195) scale(11)"/><use href="#w" transform="rotate(-210) scale(12)"/><use href="#w" transform="rotate(-225) scale(11)"/><use href="#w" transform="rotate(-240) scale(8)"/><use href="#w" transform="rotate(-255) scale(12)"/>
<use href="#w" transform="rotate(-270) scale(12)"/><use href="#w" transform="rotate(-285) scale(9)"/><use href="#w" transform="rotate(-300) scale(9)"/><use href="#w" transform="rotate(-315) scale(12)"/><use href="#w" transform="rotate(-330) scale(11)"/><use href="#w" transform="rotate(-345) scale(7)"/>
</g>
<circle cx="1379.7" cy="275" r="82.5" fill="none" stroke="#222" stroke-width="0.7"/>
<g class="ss" font-size="5.5" fill="#333" text-anchor="middle">
<text x="1190.6" y="188">90</text><text x="1234" y="200">60</text><text x="1268" y="233">30</text><text x="1277" y="277">0</text><text x="1268" y="323">330</text><text x="1234" y="354">300</text><text x="1190.6" y="365">270</text><text x="1147" y="354">240</text><text x="1114" y="323">210</text><text x="1104" y="277">180</text><text x="1114" y="233">150</text><text x="1147" y="200">120</text>
<text x="1271" y="243">35</text><text x="1249" y="251">25</text><text x="1227" y="261">15</text><text x="1204" y="271">5</text>
<text x="1379.7" y="188">90</text><text x="1457" y="233">30</text><text x="1466" y="277">0</text><text x="1457" y="323">330</text><text x="1423" y="354">300</text><text x="1379.7" y="365">270</text><text x="1336" y="354">240</text><text x="1303" y="323">210</text><text x="1295" y="277">180</text><text x="1303" y="233">150</text><text x="1336" y="200">120</text>
<text x="1460" y="243">35</text><text x="1438" y="251">25</text><text x="1416" y="261">15</text><text x="1393" y="271">5</text>
</g>
<rect x="1415" y="182.5" width="57.6" height="17" fill="#fff" stroke="#ddd" stroke-width="0.5"/>
<rect x="1417" y="185" width="11" height="4" fill="#a49bb0"/><rect x="1417" y="193" width="11" height="4" fill="#e8a4ac"/>
<text x="1432" y="189" class="ss" font-size="5" fill="#333">Text-to-Image</text><text x="1432" y="197" class="ss" font-size="5" fill="#333">3D-DST (Ours)</text>

<!-- Failure mode bar chart -->
<g fill="#8fa8cf">
<rect x="1143.2" y="424.7" width="7.4" height="108.5"/><rect x="1153.3" y="424.7" width="7.4" height="108.5"/><rect x="1163.3" y="424.7" width="7.4" height="108.5"/><rect x="1173.4" y="424.7" width="7.4" height="108.5"/><rect x="1183.5" y="424.7" width="7.4" height="108.5"/><rect x="1193.6" y="424.7" width="7.4" height="108.5"/><rect x="1203.6" y="424.7" width="7.4" height="108.5"/><rect x="1213.7" y="424.7" width="7.4" height="108.5"/><rect x="1223.8" y="424.7" width="7.4" height="108.5"/><rect x="1233.8" y="424.7" width="7.4" height="108.5"/><rect x="1243.9" y="424.7" width="7.4" height="108.5"/><rect x="1254" y="424.7" width="7.4" height="108.5"/><rect x="1264" y="424.7" width="7.4" height="108.5"/><rect x="1274.1" y="424.7" width="7.4" height="108.5"/><rect x="1284.2" y="424.7" width="7.4" height="108.5"/><rect x="1294.3" y="424.7" width="7.4" height="108.5"/><rect x="1304.3" y="424.7" width="7.4" height="108.5"/><rect x="1314.4" y="424.7" width="7.4" height="108.5"/><rect x="1324.5" y="424.7" width="7.4" height="108.5"/><rect x="1334.5" y="424.7" width="7.4" height="108.5"/><rect x="1344.6" y="424.7" width="7.4" height="108.5"/><rect x="1354.7" y="424.7" width="7.4" height="108.5"/><rect x="1364.7" y="424.7" width="7.4" height="108.5"/><rect x="1374.8" y="424.7" width="7.4" height="108.5"/><rect x="1384.9" y="424.7" width="7.4" height="108.5"/><rect x="1395" y="424.7" width="7.4" height="108.5"/>
</g>
<g fill="#c98a72">
<rect x="1143.2" y="425.8" width="7.4" height="107.4"/><rect x="1153.3" y="437.2" width="7.4" height="96"/><rect x="1163.3" y="439.3" width="7.4" height="93.9"/><rect x="1173.4" y="440.4" width="7.4" height="92.8"/><rect x="1183.5" y="440.4" width="7.4" height="92.8"/><rect x="1193.6" y="441.5" width="7.4" height="91.7"/><rect x="1203.6" y="443.1" width="7.4" height="90.1"/><rect x="1213.7" y="443.7" width="7.4" height="89.5"/><rect x="1223.8" y="444.2" width="7.4" height="89"/><rect x="1233.8" y="445.9" width="7.4" height="87.3"/><rect x="1243.9" y="448" width="7.4" height="85.2"/><rect x="1254" y="448.6" width="7.4" height="84.6"/><rect x="1264" y="448.6" width="7.4" height="84.6"/><rect x="1274.1" y="450.2" width="7.4" height="83"/><rect x="1284.2" y="451.3" width="7.4" height="81.9"/><rect x="1294.3" y="451.3" width="7.4" height="81.9"/><rect x="1304.3" y="451.3" width="7.4" height="81.9"/><rect x="1314.4" y="455.1" width="7.4" height="78.1"/><rect x="1324.5" y="456.7" width="7.4" height="76.5"/><rect x="1334.5" y="457.8" width="7.4" height="75.4"/><rect x="1344.6" y="458.3" width="7.4" height="74.9"/><rect x="1354.7" y="461" width="7.4" height="72.2"/><rect x="1364.7" y="462.1" width="7.4" height="71.1"/><rect x="1374.8" y="464.3" width="7.4" height="68.9"/><rect x="1384.9" y="466.5" width="7.4" height="66.7"/><rect x="1395" y="467" width="7.4" height="66.2"/>
</g>
<g class="ss" font-weight="bold" font-size="7" fill="#333" text-anchor="end">
<text x="1142" y="427">200</text><text x="1142" y="454.2">150</text><text x="1142" y="481.3">100</text><text x="1142" y="508.4">50</text><text x="1142" y="535.5">0</text>
</g>
<text transform="translate(1124,477) rotate(-90)" class="ss" font-weight="bold" font-size="8" fill="#333" text-anchor="middle">Count</text>
<g class="ss" font-weight="bold" font-size="6.8" fill="#333" text-anchor="end">
<text transform="translate(1150,539) rotate(-50)">n03792782</text><text transform="translate(1160.1,539) rotate(-50)">n03891251</text><text transform="translate(1170.1,539) rotate(-50)">n03642806</text><text transform="translate(1180.2,539) rotate(-50)">n04552348</text><text transform="translate(1190.3,539) rotate(-50)">n02930766</text><text transform="translate(1200.4,539) rotate(-50)">n03085013</text><text transform="translate(1210.4,539) rotate(-50)">n03977966</text><text transform="translate(1220.5,539) rotate(-50)">n02701002</text><text transform="translate(1230.6,539) rotate(-50)">n02992529</text><text transform="translate(1240.6,539) rotate(-50)">n03201208</text><text transform="translate(1250.7,539) rotate(-50)">n03761084</text><text transform="translate(1260.8,539) rotate(-50)">n03947888</text><text transform="translate(1270.8,539) rotate(-50)">n02808440</text><text transform="translate(1280.9,539) rotate(-50)">n03187595</text><text transform="translate(1291,539) rotate(-50)">n03930630</text><text transform="translate(1301.1,539) rotate(-50)">n03095699</text><text transform="translate(1311.1,539) rotate(-50)">n02747177</text><text transform="translate(1321.2,539) rotate(-50)">n04004767</text><text transform="translate(1331.3,539) rotate(-50)">n04146614</text><text transform="translate(1341.3,539) rotate(-50)">n02814533</text><text transform="translate(1351.4,539) rotate(-50)">n02843684</text><text transform="translate(1361.5,539) rotate(-50)">n02676566</text><text transform="translate(1371.5,539) rotate(-50)">n03710193</text><text transform="translate(1381.6,539) rotate(-50)">n02690373</text><text transform="translate(1391.7,539) rotate(-50)">n03063599</text><text transform="translate(1401.8,539) rotate(-50)">n03452741</text>
</g>
<text x="1279" y="585" class="ss" font-weight="bold" font-size="8" fill="#333" text-anchor="middle">Category</text>
<rect x="1410" y="422.4" width="50" height="23.4" rx="1.5" fill="#eceef2" stroke="#d6d8de" stroke-width="0.5"/>
<rect x="1413" y="427" width="15" height="5" fill="#c98a72"/><rect x="1413" y="437.5" width="15" height="5" fill="#8fa8cf"/>
<text x="1432" y="432" class="ss" font-weight="bold" font-size="7" fill="#333">Good</text><text x="1432" y="443" class="ss" font-weight="bold" font-size="7" fill="#333">Failed</text>

<!-- Histograms -->
<text x="1179" y="609" class="ss" font-size="18" text-anchor="middle" fill="#111">Guitar</text>
<text x="1398" y="609" class="ss" font-size="18" text-anchor="middle" fill="#111">Taxi</text>
<rect x="1088.8" y="611.5" width="175.2" height="130.6" fill="none" stroke="#222" stroke-width="0.6"/>
<rect x="1309.3" y="611.5" width="174.5" height="130.6" fill="none" stroke="#222" stroke-width="0.6"/>
<g fill="#4a5cf0" stroke="#222" stroke-width="0.3">
<rect x="1097.1" y="677.3" width="4" height="64.8"/><rect x="1104.8" y="650.3" width="4" height="91.8"/><rect x="1112.8" y="617.9" width="4" height="124.2"/><rect x="1120.8" y="661.1" width="4" height="81"/><rect x="1128.7" y="698.9" width="4" height="43.2"/><rect x="1136.7" y="709.7" width="4" height="32.4"/><rect x="1144.7" y="623.3" width="4" height="118.8"/><rect x="1152.7" y="693.5" width="4" height="48.6"/><rect x="1160.7" y="682.7" width="4" height="59.4"/><rect x="1168.7" y="720.5" width="4" height="21.6"/><rect x="1176.7" y="731.3" width="4" height="10.8"/><rect x="1224.6" y="736.7" width="4" height="5.4"/><rect x="1232.6" y="731.3" width="4" height="10.8"/><rect x="1240.6" y="736.7" width="4" height="5.4"/>
<rect x="1340.9" y="736.2" width="4" height="5.9"/><rect x="1348.9" y="736.2" width="4" height="5.9"/><rect x="1356.9" y="694.7" width="4" height="47.4"/><rect x="1364.9" y="688.8" width="4" height="53.3"/><rect x="1372.9" y="653.3" width="4" height="88.8"/><rect x="1380.8" y="653.3" width="4" height="88.8"/><rect x="1388.8" y="629.6" width="4" height="112.5"/><rect x="1396.8" y="617.8" width="4" height="124.3"/><rect x="1404.8" y="653.3" width="4" height="88.8"/><rect x="1412.8" y="623.7" width="4" height="118.4"/><rect x="1420.8" y="635.5" width="4" height="106.6"/><rect x="1428.8" y="671.1" width="4" height="71"/><rect x="1436.7" y="700.7" width="4" height="41.4"/><rect x="1444.7" y="712.5" width="4" height="29.6"/><rect x="1452.8" y="736.2" width="4" height="5.9"/><rect x="1460.7" y="736.2" width="4" height="5.9"/><rect x="1468.7" y="724.3" width="4" height="17.8"/>
</g>
<g fill="#e6943a" stroke="#222" stroke-width="0.3">
<rect x="1100.9" y="677.3" width="4" height="64.8"/><rect x="1108.9" y="709.7" width="4" height="32.4"/><rect x="1116.9" y="725.9" width="4" height="16.2"/><rect x="1124.9" y="731.3" width="4" height="10.8"/><rect x="1132.9" y="731.3" width="4" height="10.8"/><rect x="1140.9" y="720.5" width="4" height="21.6"/><rect x="1156.9" y="731.3" width="4" height="10.8"/><rect x="1164.8" y="736.7" width="4" height="5.4"/><rect x="1172.8" y="704.3" width="4" height="37.8"/><rect x="1180.8" y="671.9" width="4" height="70.2"/><rect x="1252.4" y="661.1" width="4" height="81"/>
<rect x="1320.8" y="724.3" width="4" height="17.8"/><rect x="1328.8" y="736.2" width="4" height="5.9"/><rect x="1336.8" y="730.3" width="4" height="11.8"/><rect x="1344.8" y="730.3" width="4" height="11.8"/><rect x="1352.7" y="730.3" width="4" height="11.8"/><rect x="1360.7" y="718.4" width="4" height="23.7"/><rect x="1368.7" y="718.4" width="4" height="23.7"/><rect x="1376.7" y="730.3" width="4" height="11.8"/><rect x="1384.7" y="712.5" width="4" height="29.6"/><rect x="1392.7" y="736.2" width="4" height="5.9"/><rect x="1400.7" y="736.2" width="4" height="5.9"/><rect x="1408.7" y="736.2" width="4" height="5.9"/><rect x="1432.6" y="736.2" width="4" height="5.9"/>
</g>
<g class="ss" font-size="4.5" fill="#333" text-anchor="end">
<text x="1087" y="743.5">0</text><text x="1087" y="716.5">5</text><text x="1087" y="689.5">10</text><text x="1087" y="662.5">15</text><text x="1087" y="635.5">20</text>
<text x="1307.5" y="743.5">0.0</text><text x="1307.5" y="728.7">2.5</text><text x="1307.5" y="713.9">5.0</text><text x="1307.5" y="699.1">7.5</text><text x="1307.5" y="684.3">10.0</text><text x="1307.5" y="669.5">12.5</text><text x="1307.5" y="654.7">15.0</text><text x="1307.5" y="639.9">17.5</text><text x="1307.5" y="625.1">20.0</text>
</g>
<g class="ss" font-size="4.5" fill="#333" text-anchor="middle">
<text x="1097.1" y="749">0</text><text x="1119.3" y="749">50</text><text x="1141.5" y="749">100</text><text x="1163.7" y="749">150</text><text x="1185.9" y="749">200</text><text x="1208.1" y="749">250</text><text x="1230.3" y="749">300</text><text x="1252.5" y="749">350</text>
<text x="1182" y="758">value</text>
<text x="1318.7" y="749">−80</text><text x="1338.7" y="749">−60</text><text x="1358.8" y="749">−40</text><text x="1378.8" y="749">−20</text><text x="1398.9" y="749">0</text><text x="1418.9" y="749">20</text><text x="1439" y="749">40</text><text x="1459" y="749">60</text><text x="1479" y="749">80</text>
<text x="1397" y="758">value</text>
</g>
<text transform="translate(1081,677) rotate(-90)" class="ss" font-size="4.5" fill="#333" text-anchor="middle">Count</text>
<text transform="translate(1298,677) rotate(-90)" class="ss" font-size="4.5" fill="#333" text-anchor="middle">Count</text>
<g class="ss" font-size="4.2" fill="#333">
<rect x="1232" y="614.5" width="30" height="22" fill="#fff" stroke="#ccc" stroke-width="0.4"/><text x="1242" y="620">quality</text><rect x="1234" y="623" width="9" height="4" fill="#4a5cf0"/><text x="1246" y="627">good</text><rect x="1234" y="630" width="9" height="4" fill="#e6943a"/><text x="1246" y="634">bad</text>
<rect x="1452" y="614.5" width="30" height="22" fill="#fff" stroke="#ccc" stroke-width="0.4"/><text x="1462" y="620">quality</text><rect x="1454" y="623" width="9" height="4" fill="#4a5cf0"/><text x="1466" y="627">good</text><rect x="1454" y="630" width="9" height="4" fill="#e6943a"/><text x="1466" y="634">bad</text>
</g>

<!-- QR / links -->
<text x="1145" y="834" class="ss" font-size="21" text-anchor="middle" fill="#111">Project</text>
<text x="1145" y="860" class="ss" font-size="21" text-anchor="middle" fill="#111">Page</text>
<text x="1341" y="822" class="ss" font-size="21" text-anchor="middle" fill="#111">Code</text>
<text x="1341" y="848" class="ss" font-size="21" text-anchor="middle" fill="#111">&amp;</text>
<text x="1341" y="874" class="ss" font-size="21" text-anchor="middle" fill="#111">Data</text>
<g id="qrA">
<rect x="1205" y="797" width="87" height="87" fill="url(#qr)"/>
<g fill="#fff"><rect x="1205" y="797" width="22" height="22"/><rect x="1270" y="797" width="22" height="22"/><rect x="1205" y="862" width="22" height="22"/></g>
<g fill="none" stroke="#000" stroke-width="3.4"><rect x="1206.7" y="798.7" width="17" height="17"/><rect x="1271.7" y="798.7" width="17" height="17"/><rect x="1206.7" y="863.7" width="17" height="17"/></g>
<g fill="#000"><rect x="1211.5" y="803.5" width="7.5" height="7.5"/><rect x="1276.5" y="803.5" width="7.5" height="7.5"/><rect x="1211.5" y="868.5" width="7.5" height="7.5"/></g>
</g>
<rect x="1391" y="797" width="87" height="87" fill="url(#qr2)"/>
<g fill="#fff"><rect x="1391" y="797" width="22" height="22"/><rect x="1456" y="797" width="22" height="22"/><rect x="1391" y="862" width="22" height="22"/></g>
<g fill="none" stroke="#000" stroke-width="3.4"><rect x="1392.7" y="798.7" width="17" height="17"/><rect x="1457.7" y="798.7" width="17" height="17"/><rect x="1392.7" y="863.7" width="17" height="17"/></g>
<g fill="#000"><rect x="1397.5" y="803.5" width="7.5" height="7.5"/><rect x="1462.5" y="803.5" width="7.5" height="7.5"/><rect x="1397.5" y="868.5" width="7.5" height="7.5"/></g>
</svg>
</body></html>
